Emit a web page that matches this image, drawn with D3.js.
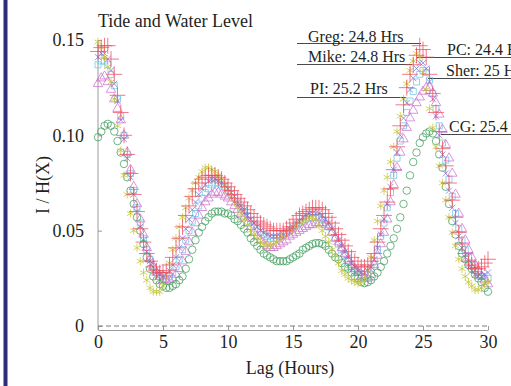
<!DOCTYPE html>
<html><head><meta charset="utf-8">
<script src="https://cdn.jsdelivr.net/npm/d3@7"></script>
<style>html,body{margin:0;padding:0;background:#fff;} svg{display:block;}</style>
</head><body>
<svg id="chart" width="511" height="386"></svg>
<script>
// ---------------- DATA ----------------
const lags = d3.range(121).map(i => i * 0.25); // lag in hours (15-minute steps)

const greg = [
 .144,.146,.147,.147, .140,.132,.121,.112, .100,.090,.080,.069, .060,.051,.044,.038,
 .034,.031,.029,.028, .028,.029,.032,.036, .041,.046,.052,.058, .063,.068,.072,.075,
 .077,.078,.079,.079, .079,.078,.077,.075, .073,.071,.069,.067, .065,.063,.061,.059,
 .057,.055,.054,.053, .052,.051,.050,.050, .050,.050,.051,.052, .054,.056,.058,.059,
 .060,.061,.062,.062, .062,.061,.059,.057, .054,.051,.048,.045, .042,.039,.036,.034,
 .032,.031,.031,.032, .034,.038,.044,.051, .058,.065,.072,.082, .094,.105,.116,.125,
 .132,.137,.142,.147, .145,.141,.132,.122, .112,.102,.093,.084, .075,.066,.057,.049,
 .043,.038,.034,.032, .030,.030,.031,.033, .035];
const mike = [
 .141,.143,.143,.140, .134,.127,.118,.108, .098,.088,.078,.069, .060,.052,.045,.039,
 .034,.031,.028,.027, .026,.027,.029,.032, .036,.041,.046,.051, .056,.061,.065,.069,
 .072,.074,.076,.077, .077,.076,.075,.074, .072,.070,.068,.065, .063,.061,.058,.056,
 .054,.052,.050,.049, .048,.047,.047,.047, .047,.048,.049,.051, .052,.054,.055,.057,
 .058,.059,.059,.059, .059,.058,.056,.054, .051,.048,.045,.042, .039,.036,.033,.031,
 .029,.028,.028,.029, .031,.035,.041,.048, .056,.064,.073,.082, .091,.100,.109,.117,
 .124,.130,.135,.138, .138,.135,.128,.119, .110,.100,.090,.080, .071,.062,.054,.047,
 .041,.036,.032,.029, .027,.026,.026,.027, .028];
const pc = [
 .149,.146,.141,.136, .128,.119,.105,.092, .079,.069,.059,.050, .041,.034,.028,.024,
 .020,.018,.018,.018, .021,.026,.033,.040, .046,.052,.057,.062, .067,.071,.075,.078,
 .081,.083,.083,.082, .081,.079,.077,.074, .071,.068,.065,.062, .059,.056,.053,.050,
 .048,.046,.044,.043, .0425,.042,.043,.044, .046,.047,.049,.050, .051,.053,.054,.055,
 .056,.057,.057,.056, .053,.050,.047,.044, .040,.037,.033,.029, .027,.025,.024,.023,
 .0225,.023,.025,.029, .036,.045,.055,.063, .071,.078,.086,.094, .102,.110,.119,.127,
 .134,.139,.143,.141, .133,.124,.114,.104, .094,.084,.075,.066, .057,.049,.042,.035,
 .030,.026,.023,.021, .019,.019,.020,.022, .023];
const sher = [
 .137,.139,.139,.137, .132,.126,.119,.110, .100,.090,.080,.071, .062,.054,.046,.040,
 .035,.031,.028,.026, .025,.025,.026,.028, .031,.035,.040,.045, .050,.055,.059,.063,
 .067,.070,.072,.074, .075,.075,.074,.073, .071,.069,.067,.065, .062,.060,.058,.055,
 .053,.051,.049,.048, .047,.046,.046,.046, .047,.048,.049,.050, .051,.053,.054,.055,
 .056,.057,.057,.057, .057,.056,.054,.052, .049,.046,.043,.040, .037,.034,.031,.029,
 .028,.027,.027,.028, .030,.034,.040,.047, .054,.062,.070,.079, .088,.097,.105,.112,
 .118,.123,.128,.132, .134,.133,.129,.122, .114,.105,.096,.087, .077,.068,.059,.051,
 .045,.040,.036,.032, .029,.027,.026,.025, .025];
const pi = [
 .127,.130,.131,.128, .124,.119,.114,.108, .100,.091,.082,.073, .064,.056,.048,.041,
 .035,.031,.028,.026, .024,.024,.024,.025, .027,.030,.034,.039, .044,.049,.054,.058,
 .062,.065,.067,.069, .070,.070,.069,.068, .067,.065,.063,.061, .059,.057,.054,.052,
 .049,.047,.045,.043, .042,.041,.041,.042, .043,.044,.045,.047, .048,.049,.050,.051,
 .052,.053,.053,.054, .054,.054,.053,.052, .049,.046,.044,.041, .038,.035,.032,.030,
 .028,.026,.025,.025, .027,.032,.037,.043, .049,.056,.065,.074, .083,.091,.098,.104,
 .109,.113,.117,.120, .123,.125,.125,.122, .117,.111,.103,.095, .088,.080,.069,.059,
 .051,.045,.040,.036, .032,.029,.026,.024, .022];
const cg = [
 .099,.102,.105,.106, .105,.102,.097,.091, .085,.078,.071,.064, .057,.050,.043,.036,
 .030,.026,.024,.022, .021,.020,.020,.021, .022,.024,.026,.030, .035,.040,.045,.049,
 .052,.055,.057,.059, .060,.060,.060,.059, .059,.058,.056,.055, .053,.051,.049,.046,
 .044,.042,.040,.038, .037,.036,.035,.034, .034,.034,.034,.035, .036,.037,.038,.040,
 .041,.042,.043,.0435, .0435,.043,.042,.040, .038,.036,.035,.033, .031,.030,.028,.026,
 .025,.023,.0225,.023, .024,.026,.028,.031, .034,.038,.042,.046, .051,.057,.064,.071,
 .079,.086,.091,.096, .099,.101,.102,.101, .097,.090,.083,.073, .064,.055,.048,.042,
 .038,.035,.032,.030, .027,.025,.023,.020, .018];

const seriesNames = ["Greg", "Mike", "PC", "Sher", "PI", "CG"];
const seriesValues = [greg, mike, pc, sher, pi, cg];
const periodLabels = ["Greg: 24.8 Hrs", "Mike: 24.8 Hrs", "PC: 24.4 Hrs", "Sher: 25 Hrs", "PI: 25.2 Hrs", "CG: 25.4 Hrs"];
const xTicks = [0, 5, 10, 15, 20, 25, 30];
const yTicks = [0, 0.05, 0.10, 0.15];
const yTickLabels = ["0", "0.05", "0.10", "0.15"];
const titleText = "Tide and Water Level";
const xTitle = "Lag (Hours)";
const yTitle = "I / H(X)";

// ---------------- STYLE / LAYOUT ----------------
const FONT = "'Liberation Serif','Times New Roman',Times,serif";
const TXT = "#231f20";
const AX = "#9a9a9a";
const markerStyle = {
  Greg: {sym: d3.symbolPlus,      size: 84, color: "#ee4a5c"},
  Mike: {sym: d3.symbolTimes,     size: 26, color: "#7a72d6"},
  PC:   {sym: d3.symbolAsterisk,  size: 48, color: "#c6c638"},
  Sher: {sym: d3.symbolSquare2,   size: 46, color: "#6cc6e6"},
  PI:   {sym: d3.symbolTriangle2, size: 64, color: "#cf72cf"},
  CG:   {sym: d3.symbolCircle,    size: 44, color: "#3f9d5e"}
};
const drawOrder = ["Sher", "PI", "Mike", "CG", "PC", "Greg"];
const annoLayout = {
  Greg: {tx: 308, ty: 42,  ly: 43.5, x1: 297, x2: 421},
  Mike: {tx: 308, ty: 62,  ly: 64.5, x1: 297, x2: 412},
  PC:   {tx: 447, ty: 55,  ly: 57.5, x1: 417, x2: 511},
  Sher: {tx: 446, ty: 76,  ly: 78.5, x1: 428, x2: 511},
  PI:   {tx: 310, ty: 94,  ly: 97.5, x1: 297, x2: 406},
  CG:   {tx: 449, ty: 132, ly: 134.5, x1: 441, x2: 511}
};

const svg = d3.select("#chart");
svg.append("rect").attr("x", 0).attr("y", 0).attr("width", 511).attr("height", 386).attr("fill", "#fff");
svg.append("rect").attr("x", 3.5).attr("y", 0).attr("width", 4).attr("height", 386).attr("fill", "#2c2e78");

const x = d3.scaleLinear().domain([0, 30]).range([98, 488]);
const y = d3.scaleLinear().domain([0, 0.15]).range([326, 40]);
const axisY = 330;

// title
svg.append("text").attr("x", x(0)).attr("y", 27).text(titleText)
  .attr("font-family", FONT).attr("font-size", 18).attr("fill", TXT);

// x axis
const xg = svg.append("g").attr("transform", `translate(0,${axisY})`)
  .call(d3.axisBottom(x).tickValues(xTicks).tickSizeInner(-4).tickSizeOuter(0).tickPadding(5).tickFormat(d3.format("d")));
xg.select(".domain").attr("stroke", AX);
xg.selectAll(".tick line").attr("stroke", AX);
xg.selectAll("text").attr("font-family", FONT).attr("font-size", 18).attr("fill", TXT);

// y axis
const yg = svg.append("g").attr("transform", `translate(${x(0)},0)`)
  .call(d3.axisLeft(y).tickValues(yTicks).tickSizeInner(-4).tickSizeOuter(0).tickPadding(14)
    .tickFormat((d, i) => yTickLabels[i]));
yg.select(".domain").remove();
yg.selectAll(".tick line").attr("stroke", AX);
yg.selectAll("text").attr("font-family", FONT).attr("font-size", 18).attr("fill", TXT);
svg.append("line").attr("x1", x(0)).attr("x2", x(0)).attr("y1", axisY).attr("y2", y(0.15))
  .attr("stroke", AX).attr("stroke-width", 1);

// zero dashed line
svg.append("line").attr("x1", x(0)).attr("x2", x(30)).attr("y1", y(0)).attr("y2", y(0))
  .attr("stroke", "#7a7a7a").attr("stroke-width", 1).attr("stroke-dasharray", "5,3");

// axis titles
svg.append("text").attr("x", 290).attr("y", 374).attr("text-anchor", "middle").text(xTitle)
  .attr("font-family", FONT).attr("font-size", 18).attr("fill", TXT);
svg.append("text").attr("transform", "translate(49,185) rotate(-90)").attr("text-anchor", "middle").text(yTitle)
  .attr("font-family", FONT).attr("font-size", 18).attr("fill", TXT);

// annotation lines (under markers)
seriesNames.forEach(n => {
  const a = annoLayout[n];
  svg.append("line").attr("x1", a.x1).attr("x2", a.x2).attr("y1", a.ly).attr("y2", a.ly)
    .attr("stroke", "#4a4a4a").attr("stroke-width", 1);
});

// markers
drawOrder.forEach(n => {
  const idx = seriesNames.indexOf(n);
  const vals = seriesValues[idx];
  const st = markerStyle[n];
  const gen = d3.symbol().type(st.sym).size(st.size);
  svg.append("g").selectAll("path").data(vals).join("path")
    .attr("d", gen)
    .attr("transform", (d, i) => `translate(${x(lags[i])},${y(d)})`)
    .attr("fill", "none").attr("stroke", st.color).attr("stroke-width", 0.75);
});

// annotation texts
seriesNames.forEach((n, i) => {
  const a = annoLayout[n];
  svg.append("text").attr("x", a.tx).attr("y", a.ty).text(periodLabels[i])
    .attr("font-family", FONT).attr("font-size", 16).attr("fill", TXT);
});
</script>
</body></html>
